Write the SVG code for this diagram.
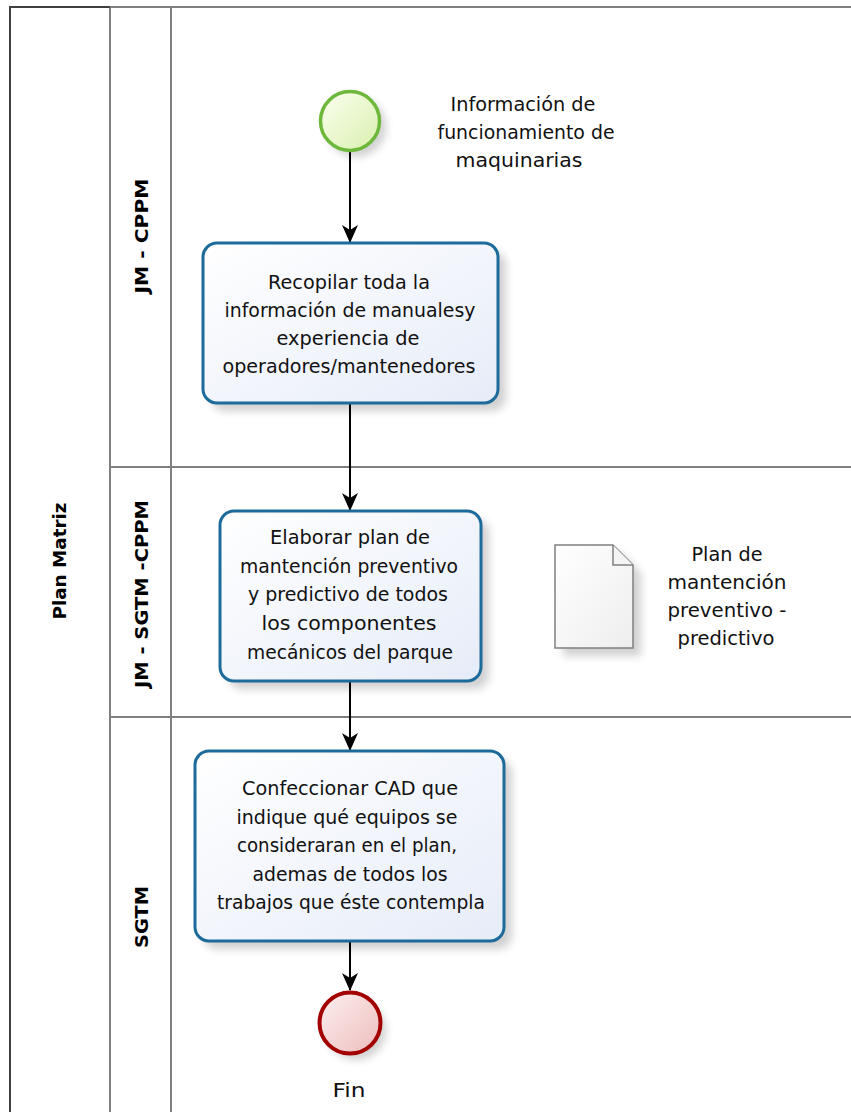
<svg xmlns="http://www.w3.org/2000/svg" width="851" height="1112" viewBox="0 0 851 1112">
<defs>
<style>
.lane{fill:none;stroke:#808080;stroke-width:2}
.pool{fill:none;stroke:#404040;stroke-width:2}
.lbl{font-family:"DejaVu Sans","Liberation Sans",sans-serif;font-weight:bold;font-size:18px;fill:#000;text-anchor:middle}
.t{font-family:"DejaVu Sans","Liberation Sans",sans-serif;font-size:19px;fill:#111;text-anchor:middle}
.task{fill:url(#gTask);stroke:#1d6b9a;stroke-width:3}
.shadow{fill:#000;opacity:0.18;filter:url(#blur)}
.flow{stroke:#000;stroke-width:2;fill:none;marker-end:url(#arr)}
</style>
<linearGradient id="gTask" x1="0" y1="0" x2="1" y2="1">
<stop offset="0" stop-color="#ffffff"/><stop offset="1" stop-color="#e6ecf8"/>
</linearGradient>
<linearGradient id="gStart" x1="0" y1="0" x2="1" y2="1">
<stop offset="0" stop-color="#fbfff0"/><stop offset="1" stop-color="#d9f0ad"/>
</linearGradient>
<linearGradient id="gEnd" x1="0" y1="0" x2="1" y2="1">
<stop offset="0" stop-color="#fdf0f0"/><stop offset="1" stop-color="#eebcbc"/>
</linearGradient>
<linearGradient id="gDoc" x1="0" y1="0" x2="1" y2="1">
<stop offset="0" stop-color="#ffffff"/><stop offset="1" stop-color="#eeeeee"/>
</linearGradient>
<filter id="blur" x="-20%" y="-20%" width="140%" height="140%"><feGaussianBlur stdDeviation="4"/></filter>
<marker id="arr" viewBox="0 0 18 18" refX="17" refY="9" markerWidth="18" markerHeight="18" markerUnits="userSpaceOnUse" orient="auto">
<path d="M0,1 L18,9 L0,17 L5,9 Z" fill="#000"/>
</marker>
</defs>
<rect width="851" height="1112" fill="#fff"/>

<g id="pool">
<path class="lane" d="M110,7 V1112 M171,7 V1112 M110,467 H851 M110,717 H851 M110,7 H851"/>
<path class="pool" d="M10,1112 V7 H110"/>
<text class="lbl" transform="translate(66,561) rotate(-90)" textLength="117" lengthAdjust="spacingAndGlyphs">Plan Matriz</text>
</g>
<g id="lane1"><text class="lbl" transform="translate(148,236) rotate(-90)" textLength="115" lengthAdjust="spacingAndGlyphs">JM - CPPM</text></g>
<g id="lane2"><text class="lbl" transform="translate(148,594) rotate(-90)" textLength="188" lengthAdjust="spacingAndGlyphs">JM - SGTM -CPPM</text></g>
<g id="lane3"><text class="lbl" transform="translate(148,917) rotate(-90)" textLength="62" lengthAdjust="spacingAndGlyphs">SGTM</text></g>

<g id="connectors">
<path class="flow" d="M350,152 V242"/>
<path class="flow" d="M350,404 V510"/>
<path class="flow" d="M350,682 V750"/>
<path class="flow" d="M350,942 V990"/>
</g>

<g id="start">
<circle class="shadow" cx="356" cy="127" r="30"/>
<circle cx="350" cy="121" r="29.5" fill="url(#gStart)" stroke="#6db83a" stroke-width="3.5"/>
<text class="t"><tspan x="523" y="111" textLength="145" lengthAdjust="spacingAndGlyphs">Información de</tspan><tspan x="526" y="139" textLength="177" lengthAdjust="spacingAndGlyphs">funcionamiento de</tspan><tspan x="519" y="167" textLength="127" lengthAdjust="spacingAndGlyphs">maquinarias</tspan></text>
</g>

<g id="task1">
<rect class="shadow" x="211" y="251" width="295" height="160" rx="14"/>
<rect class="task" x="203" y="243" width="295" height="160" rx="14"/>
<text class="t"><tspan x="349" y="289" textLength="162" lengthAdjust="spacingAndGlyphs">Recopilar toda la</tspan><tspan x="350" y="317" textLength="251" lengthAdjust="spacingAndGlyphs">información de manualesy</tspan><tspan x="348" y="345" textLength="143" lengthAdjust="spacingAndGlyphs">experiencia de</tspan><tspan x="349" y="373" textLength="253" lengthAdjust="spacingAndGlyphs">operadores/mantenedores</tspan></text>
</g>

<g id="task2">
<rect class="shadow" x="228" y="519" width="261" height="170" rx="14"/>
<rect class="task" x="220" y="511" width="261" height="170" rx="14"/>
<text class="t"><tspan x="350" y="544" textLength="160" lengthAdjust="spacingAndGlyphs">Elaborar plan de</tspan><tspan x="349" y="573" textLength="218" lengthAdjust="spacingAndGlyphs">mantención preventivo</tspan><tspan x="348" y="601" textLength="200" lengthAdjust="spacingAndGlyphs">y predictivo de todos</tspan><tspan x="349" y="630" textLength="175" lengthAdjust="spacingAndGlyphs">los componentes</tspan><tspan x="350" y="659" textLength="206" lengthAdjust="spacingAndGlyphs">mecánicos del parque</tspan></text>
</g>

<g id="doc">
<path class="shadow" d="M563,553 H621 L641,573 V656 H563 Z"/>
<path d="M555,545 H613 L633,565 V648 H555 Z" fill="url(#gDoc)" stroke="#808080" stroke-width="1.5"/>
<path d="M613,545 V565 H633" fill="#f4f4f4" stroke="#808080" stroke-width="1.5"/>
<text class="t"><tspan x="727" y="561" textLength="71" lengthAdjust="spacingAndGlyphs">Plan de</tspan><tspan x="727" y="589" textLength="119" lengthAdjust="spacingAndGlyphs">mantención</tspan><tspan x="727" y="617" textLength="119" lengthAdjust="spacingAndGlyphs">preventivo -</tspan><tspan x="726" y="645" textLength="97" lengthAdjust="spacingAndGlyphs">predictivo</tspan></text>
</g>

<g id="task3">
<rect class="shadow" x="203" y="759" width="309" height="190" rx="14"/>
<rect class="task" x="195" y="751" width="309" height="190" rx="14"/>
<text class="t"><tspan x="350" y="795" textLength="216" lengthAdjust="spacingAndGlyphs">Confeccionar  CAD que</tspan><tspan x="347" y="824" textLength="221" lengthAdjust="spacingAndGlyphs">indique qué equipos se</tspan><tspan x="347" y="852" textLength="220" lengthAdjust="spacingAndGlyphs">consideraran en el plan,</tspan><tspan x="350" y="881" textLength="195" lengthAdjust="spacingAndGlyphs">ademas de todos los</tspan><tspan x="351" y="909" textLength="268" lengthAdjust="spacingAndGlyphs">trabajos que éste contempla</tspan></text>
</g>

<g id="end">
<circle class="shadow" cx="356" cy="1030" r="30"/>
<circle cx="350" cy="1023" r="30.5" fill="url(#gEnd)" stroke="#a30000" stroke-width="4"/>
<text class="t" x="349" y="1097" textLength="33" lengthAdjust="spacingAndGlyphs">Fin</text>
</g>
</svg>
